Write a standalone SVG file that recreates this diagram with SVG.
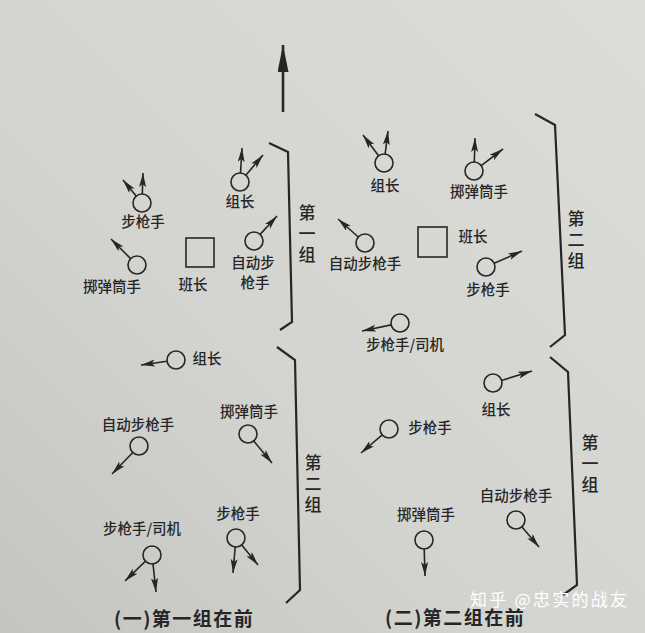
<svg xmlns="http://www.w3.org/2000/svg" width="645" height="633" viewBox="0 0 645 633">
<defs>
<linearGradient id="paper" x1="1" y1="0" x2="0" y2="1">
<stop offset="0" stop-color="#dcddd9"/>
<stop offset="0.6" stop-color="#d3d4d0"/>
<stop offset="1" stop-color="#c4c5c0"/>
</linearGradient>
<marker id="ah" markerUnits="userSpaceOnUse" markerWidth="15" markerHeight="8" refX="14" refY="3.5" orient="auto">
<path d="M0,0 L14,3.5 L0,7 L3,3.5 z" fill="#262626"/>
</marker>
<marker id="big" markerUnits="userSpaceOnUse" markerWidth="28" markerHeight="12" refX="27" refY="5.5" orient="auto">
<path d="M0,0 L27,5.5 L0,11 z" fill="#262626"/>
</marker>
</defs>
<style>
.c{fill:none;stroke:#262626;stroke-width:1.6}
.a{stroke:#262626;stroke-width:1.6;fill:none;marker-end:url(#ah)}
.br{fill:none;stroke:#262626;stroke-width:2.2;stroke-linejoin:miter}
.t{font-family:"Noto Sans CJK SC","Noto Sans CJK JP",sans-serif;font-size:14.5px;fill:#262626;text-anchor:middle;font-weight:500}
.g{font-family:"Noto Sans CJK SC","Noto Sans CJK JP",sans-serif;font-size:17px;fill:#262626;text-anchor:middle;font-weight:500;writing-mode:vertical-rl;letter-spacing:4px}
.cap{font-family:"Noto Sans CJK SC","Noto Sans CJK JP",sans-serif;font-size:19px;fill:#262626;font-weight:700;letter-spacing:1.5px}
.wm{font-family:"Noto Sans CJK SC","Noto Sans CJK JP",sans-serif;font-size:17px;fill:#ffffff}
</style>
<rect x="0" y="0" width="645" height="633" fill="url(#paper)"/>

<g id="forward-arrow">
<line x1="283" y1="112" x2="283" y2="45" stroke="#262626" stroke-width="2.6" marker-end="url(#big)"/>
</g>

<!-- (一) first group in front -->
<g id="p1-g1-rifleman">
<circle class="c" cx="142" cy="203" r="9"/>
<text class="t" x="143" y="227">步枪手</text>
</g>
<g id="p1-g1-leader">
<circle class="c" cx="240" cy="182" r="9"/>
<text class="t" x="240" y="207">组长</text>
</g>
<g id="p1-g1-grenadier">
<circle class="c" cx="137" cy="265" r="9"/>
<text class="t" x="112" y="292">掷弹筒手</text>
</g>
<g id="p1-squad-leader">
<rect x="186" y="238" width="28" height="29" class="c"/>
<text class="t" x="193" y="290">班长</text>
</g>
<g id="p1-g1-autorifle">
<circle class="c" cx="254" cy="241" r="9"/>
<text class="t" x="253" y="268">自动步</text>
<text class="t" x="255" y="288">枪手</text>
</g>
<g id="p1-bracket-1">
<polyline class="br" points="269,143 288,152 292,322 280,330"/>
<text class="g" x="307" y="236">第一组</text>
</g>
<g id="p1-g2-leader">
<circle class="c" cx="176" cy="360" r="9"/>
<text class="t" x="207" y="364">组长</text>
</g>
<g id="p1-g2-grenadier">
<circle class="c" cx="248" cy="434" r="9"/>
<text class="t" x="249" y="417">掷弹筒手</text>
</g>
<g id="p1-g2-autorifle">
<circle class="c" cx="139" cy="446" r="9"/>
<text class="t" x="138" y="430">自动步枪手</text>
</g>
<g id="p1-g2-driver">
<circle class="c" cx="152" cy="555" r="9"/>
<text class="t" x="142" y="534">步枪手/司机</text>
</g>
<g id="p1-g2-rifleman">
<circle class="c" cx="236" cy="538" r="9"/>
<text class="t" x="238" y="519">步枪手</text>
</g>
<g id="p1-bracket-2">
<polyline class="br" points="277,347 295,360 300,590 286,603"/>
<text class="g" x="313" y="486">第二组</text>
</g>
<g id="caption-1">
<text class="cap" x="114" y="626">(一)第一组在前</text>
</g>

<!-- (二) second group in front -->
<g id="p2-g2-leader">
<circle class="c" cx="384" cy="163" r="9"/>
<text class="t" x="385" y="191">组长</text>
</g>
<g id="p2-g2-grenadier">
<circle class="c" cx="474" cy="171" r="9"/>
<text class="t" x="479" y="197">掷弹筒手</text>
</g>
<g id="p2-g2-autorifle">
<circle class="c" cx="365" cy="243" r="9"/>
<text class="t" x="365" y="269">自动步枪手</text>
</g>
<g id="p2-squad-leader">
<rect x="418" y="227" width="29" height="30" class="c"/>
<text class="t" x="473" y="242">班长</text>
</g>
<g id="p2-g2-rifleman">
<circle class="c" cx="486" cy="267" r="9"/>
<text class="t" x="488" y="295">步枪手</text>
</g>
<g id="p2-g2-driver">
<circle class="c" cx="400" cy="323" r="9"/>
<text class="t" x="405" y="350">步枪手/司机</text>
</g>
<g id="p2-bracket-2">
<polyline class="br" points="535,114 555,125 565,335 550,347"/>
<text class="g" x="576" y="242">第二组</text>
</g>
<g id="p2-g1-leader">
<circle class="c" cx="493" cy="383" r="9"/>
<text class="t" x="496" y="415">组长</text>
</g>
<g id="p2-g1-rifleman">
<circle class="c" cx="389" cy="429" r="9"/>
<text class="t" x="430" y="433">步枪手</text>
</g>
<g id="p2-g1-grenadier">
<circle class="c" cx="424" cy="540" r="9"/>
<text class="t" x="426" y="520">掷弹筒手</text>
</g>
<g id="p2-g1-autorifle">
<circle class="c" cx="516" cy="520" r="9"/>
<text class="t" x="516" y="501">自动步枪手</text>
</g>
<g id="p2-bracket-1">
<polyline class="br" points="550,357 568,372 577,585 563,595"/>
<text class="g" x="590" y="466">第一组</text>
</g>
<g id="caption-2">
<text class="cap" x="385" y="625">(二)第二组在前</text>
</g>

<g id="connectors">
<line class="a" x1="142.3" y1="194" x2="143" y2="173"/>
<line class="a" x1="136.2" y1="196.1" x2="123" y2="180"/>
<line class="a" x1="240.5" y1="173" x2="242" y2="148"/>
<line class="a" x1="245.8" y1="175.2" x2="263" y2="155"/>
<line class="a" x1="130.6" y1="258.6" x2="111" y2="239"/>
<line class="a" x1="260.1" y1="234.4" x2="277" y2="216"/>
<line class="a" x1="378.6" y1="155.8" x2="363" y2="135"/>
<line class="a" x1="385.1" y1="154.1" x2="388" y2="131"/>
<line class="a" x1="474.3" y1="162" x2="475" y2="138"/>
<line class="a" x1="481.2" y1="165.6" x2="503" y2="149"/>
<line class="a" x1="358.3" y1="237" x2="338" y2="219"/>
<line class="a" x1="494.2" y1="263.3" x2="522" y2="251"/>
<line class="a" x1="391.2" y1="324.9" x2="362" y2="331"/>
<line class="a" x1="167.1" y1="361.3" x2="141" y2="365"/>
<line class="a" x1="253.7" y1="440.9" x2="272" y2="463"/>
<line class="a" x1="132.8" y1="452.5" x2="112" y2="474"/>
<line class="a" x1="145.5" y1="561.2" x2="125" y2="581"/>
<line class="a" x1="153" y1="563.9" x2="156" y2="592"/>
<line class="a" x1="235.2" y1="547" x2="233" y2="573"/>
<line class="a" x1="241.7" y1="545" x2="258" y2="565"/>
<line class="a" x1="501.6" y1="380.4" x2="532" y2="371"/>
<line class="a" x1="382.2" y1="434.9" x2="361" y2="453"/>
<line class="a" x1="424.2" y1="549" x2="425" y2="576"/>
<line class="a" x1="521.8" y1="526.8" x2="539" y2="547"/>
</g>

<g id="watermark">
<text class="wm" x="470" y="606" textLength="157" lengthAdjust="spacing">知乎 @忠实的战友</text>
</g>
</svg>
